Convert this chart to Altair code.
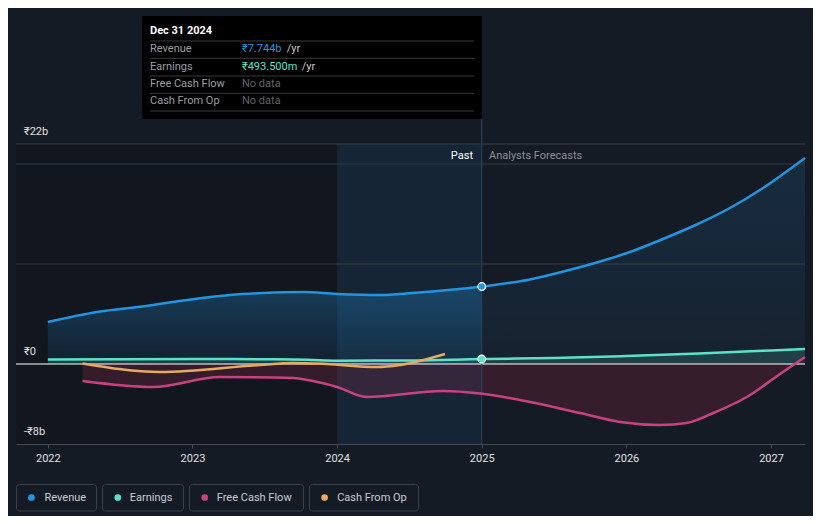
import altair as alt
import pandas as pd

# ---------------- data (values in ₹ billions) ----------------
rev_years = [2022.0, 2022.34, 2022.68, 2022.91, 2023.26, 2023.49, 2023.76, 2024.0, 2024.30, 2024.52, 2025.0,
             2025.333, 2025.564, 2025.795, 2026.025, 2026.253, 2026.486, 2026.716, 2026.945, 2027.235]
rev_values = [4.2, 5.2, 5.8, 6.3, 6.9, 7.1, 7.2, 7.0, 6.9, 7.1, 7.744,
              8.45, 9.25, 10.15, 11.2, 12.5, 13.95, 15.6, 17.6, 20.6]

earn_years = [2022.0, 2022.5, 2023.0, 2023.5, 2023.8, 2024.0, 2024.5, 2025.0, 2025.5, 2026.0, 2026.5, 2027.0, 2027.235]
earn_values = [0.45, 0.47, 0.5, 0.47, 0.42, 0.33, 0.36, 0.4935, 0.6, 0.8, 1.05, 1.35, 1.5]

fcf_years = [2022.24, 2022.728, 2023.19, 2023.696, 2023.833, 2024.0, 2024.204, 2024.732, 2024.988,
             2025.333, 2025.679, 2025.956, 2026.232, 2026.417, 2026.601, 2026.832, 2027.062, 2027.235]
fcf_values = [-1.7, -2.3, -1.3, -1.4, -1.7, -2.3, -3.3, -2.7, -2.95,
              -3.8, -4.9, -5.8, -6.1, -5.9, -4.9, -3.3, -1.0, 0.7]

cfo_years = [2022.24, 2022.775, 2023.466, 2023.694, 2023.927, 2024.273, 2024.434, 2024.746]
cfo_values = [0.05, -0.8, -0.1, 0.1, 0.0, -0.3, -0.1, 1.0]

x_ticks = [2022, 2023, 2024, 2025, 2026, 2027]
y_label_values = [22, 0, -8]
y_label_texts = ["₹22b", "₹0", "-₹8b"]
grid_values = [22, 20, 10]

series_names = ["Revenue", "Earnings", "Free Cash Flow", "Cash From Op"]
series_colors = ["#2394df", "#5ce1c9", "#c94280", "#e8aa62"]

tooltip_title = "Dec 31 2024"
tooltip_values = ["₹7.744b", "₹493.500m", "No data", "No data"]

# ---------------- styling ----------------
BG = "#151b25"
FONT = "Roboto"
X_MIN, X_MAX = 2021.78, 2027.235
xscale = alt.Scale(domain=[X_MIN, X_MAX], nice=False, zero=False)
yscale = alt.Scale(domain=[-8, 22], nice=False, zero=False)
xaxis = alt.Axis(values=x_ticks, format="d", title=None, grid=False,
                 labelColor="#e0e0e0", labelFontSize=11, labelFont=FONT,
                 tickColor="#444a55", domainColor="#444a55", tickSize=4,
                 labelPadding=4, labelFlush=False)

rev = pd.DataFrame({"year": rev_years, "value": rev_values})
earn = pd.DataFrame({"year": earn_years, "value": earn_values})
fcf = pd.DataFrame({"year": fcf_years, "value": fcf_values})
cfo = pd.DataFrame({"year": cfo_years, "value": cfo_values})
one = pd.DataFrame({"a": [0]})

X = alt.X("year:Q", scale=xscale, axis=xaxis)
Y = alt.Y("value:Q", scale=yscale, axis=None)
ZERO = alt.Y2("zero:Q")


def with_zero(df):
    d = df.copy()
    d["zero"] = 0.0
    return d


def vgrad(top, bottom):
    return alt.Gradient(gradient="linear", x1=0, x2=0, y1=0, y2=1,
                        stops=[alt.GradientStop(color=top, offset=0),
                               alt.GradientStop(color=bottom, offset=1)])


layers = []

# darker past background
past_bg = pd.DataFrame({"year": [X_MIN], "year2": [2024.0]})
layers.append(alt.Chart(past_bg).mark_rect(color="#000000", opacity=0.16).encode(
    x=X, x2="year2:Q", y=alt.value(0), y2=alt.value(300)))

# revenue areas
layers.append(alt.Chart(with_zero(rev[rev.year <= 2025.0])).mark_area(
    interpolate="monotone", color=vgrad("rgba(35,148,223,0.30)", "rgba(35,148,223,0.08)")
).encode(x=X, y=Y, y2=ZERO))
layers.append(alt.Chart(with_zero(rev[rev.year >= 2025.0])).mark_area(
    interpolate="monotone", color=vgrad("rgba(35,148,223,0.14)", "rgba(35,148,223,0.05)")
).encode(x=X, y=Y, y2=ZERO))

# earnings area
layers.append(alt.Chart(with_zero(earn)).mark_area(interpolate="monotone", color="#5ce1c9", opacity=0.15)
              .encode(x=X, y=Y, y2=ZERO))

# fcf area
layers.append(alt.Chart(with_zero(fcf)).mark_area(interpolate="monotone", color="rgb(62,30,46)", opacity=0.8)
              .encode(x=X, y=Y, y2=ZERO))

# past band
band = pd.DataFrame({"year": [2024.0], "year2": [2025.0]})
layers.append(alt.Chart(band).mark_rect(color="#2394df", opacity=0.09).encode(
    x=X, x2="year2:Q", y=alt.value(0), y2=alt.value(300)))

# gridlines
grid = pd.DataFrame({"value": grid_values})
layers.append(alt.Chart(grid).mark_rule(color="#353a44", strokeWidth=1).encode(
    y=Y, x=alt.value(0), x2=alt.value(789)))
zero_df = pd.DataFrame({"value": [0.0]})
layers.append(alt.Chart(zero_df).mark_rule(color="#ffffff", strokeWidth=1.2).encode(
    y=Y, x=alt.value(0), x2=alt.value(789)))

# vertical "now" line
now_df = pd.DataFrame({"year": [2025.0]})
layers.append(alt.Chart(now_df).mark_rule(color="#2a4560", strokeWidth=1).encode(
    x=X, y=alt.value(-25), y2=alt.value(300)))

# lines
layers.append(alt.Chart(earn).mark_line(interpolate="monotone", color=series_colors[1], strokeWidth=2.5)
              .encode(x=X, y=Y))
layers.append(alt.Chart(fcf).mark_line(interpolate="monotone", color=series_colors[2], strokeWidth=2.5)
              .encode(x=X, y=Y))
layers.append(alt.Chart(cfo).mark_line(interpolate="monotone", color=series_colors[3], strokeWidth=2.5)
              .encode(x=X, y=Y))
layers.append(alt.Chart(rev).mark_line(interpolate="monotone", color=series_colors[0], strokeWidth=2.5)
              .encode(x=X, y=Y))

# points at Dec 31 2024
layers.append(alt.Chart(rev[rev.year == 2025.0]).mark_point(
    filled=True, size=60, color=series_colors[0], stroke="white", strokeWidth=1.2, opacity=1)
    .encode(x=X, y=Y))
layers.append(alt.Chart(earn[earn.year == 2025.0]).mark_point(
    filled=True, size=60, color=series_colors[1], stroke="white", strokeWidth=1.2, opacity=1)
    .encode(x=X, y=Y))

# y labels
ylab = pd.DataFrame({"value": y_label_values, "t": y_label_texts})
layers.append(alt.Chart(ylab).mark_text(align="left", baseline="middle", dy=-12, fontSize=11,
                                        font=FONT, color="#e0e0e0")
              .encode(y=Y, x=alt.value(8), text="t:N"))


def txt(t, px, py, color, align="left", size=11, weight="normal"):
    d = pd.DataFrame({"t": [t]})
    return alt.Chart(d).mark_text(align=align, baseline="middle", fontSize=size,
                                  font=FONT, color=color, fontWeight=weight).encode(
        x=alt.value(px), y=alt.value(py), text="t:N")


def hrule(py, x0, x1, color):
    return alt.Chart(one).mark_rule(color=color, strokeWidth=1).encode(
        x=alt.value(x0), x2=alt.value(x1), y=alt.value(py))


layers.append(txt("Past", 457, 12, "#ffffff", align="right"))
layers.append(txt("Analysts Forecasts", 473, 12, "#8a8f98"))

# tooltip box
layers.append(alt.Chart(one).mark_rect(color="#000000").encode(
    x=alt.value(126), x2=alt.value(466), y=alt.value(-128), y2=alt.value(-25)))
for sy in [-103, -85.7, -68, -50.7, -33]:
    layers.append(hrule(sy, 134, 458, "#3a3a3a"))
layers.append(txt(tooltip_title, 134, -113, "#ffffff", weight="bold"))
row_y = [-94.7, -77.3, -59.7, -43]
val_colors = [series_colors[0], series_colors[1], "#5f636b", "#5f636b"]
for name, val, yy, vc in zip(series_names, tooltip_values, row_y, val_colors):
    layers.append(txt(name, 134, yy, "#9a9ea6"))
    layers.append(txt(val, 226, yy, vc))
layers.append(txt("/yr", 270.7, row_y[0], "#c8c8c8"))
layers.append(txt("/yr", 285.7, row_y[1], "#c8c8c8"))

# legend
box_x = [(0, 81), (86, 168), (173, 288), (293, 403)]
dot_x = [15.4, 101.8, 188.7, 308.6]
lab_x = [28.5, 113.8, 200.8, 321.2]
for name, col, (bx0, bx1), dx, lx in zip(series_names, series_colors, box_x, dot_x, lab_x):
    layers.append(alt.Chart(one).mark_rect(fill=BG, stroke="#3b4049", strokeWidth=1, cornerRadius=3)
                  .encode(x=alt.value(bx0 + 0.5), x2=alt.value(bx1 - 0.5),
                          y=alt.value(340.5), y2=alt.value(367)))
    layers.append(alt.Chart(one).mark_circle(color=col, size=45, opacity=1)
                  .encode(x=alt.value(dx), y=alt.value(353.5)))
    layers.append(txt(name, lx, 353.5, "#c8ccd2"))

chart = alt.layer(*layers).properties(
    width=789, height=300,
    autosize=alt.AutoSizeParams(type="none"),
    padding={"left": 8, "top": 136, "right": 8, "bottom": 72},
).configure(background=BG).configure_view(stroke=None)

chart.save("out.html", embed_options={"renderer": "svg", "actions": False})
